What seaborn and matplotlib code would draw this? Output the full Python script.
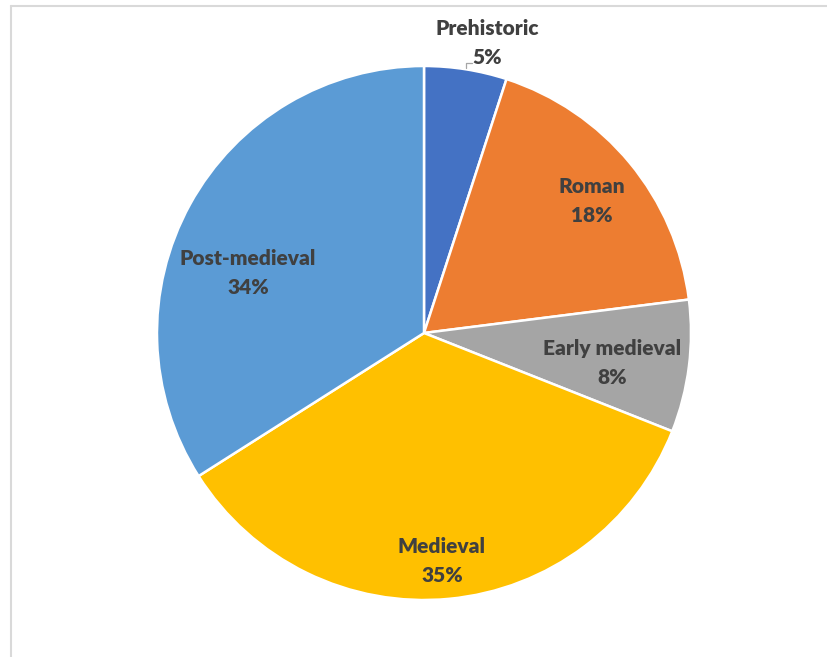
import matplotlib
matplotlib.use("Agg")
import matplotlib.pyplot as plt
from matplotlib.lines import Line2D
import seaborn as sns

# data
periods = ["Prehistoric", "Roman", "Early medieval", "Medieval", "Post-medieval"]
shares = [5, 18, 8, 35, 34]
colours = ["#4472C4", "#ED7D31", "#A5A5A5", "#FFC000", "#5B9BD5"]

sns.set_style("white")
plt.rcParams["font.family"] = ["Lato", "DejaVu Sans"]

W, H = 828, 657
fig = plt.figure(figsize=(W / 100, H / 100), dpi=100)

# pie centre (424, 333) px, radius 267 px
cx, cy, r = 424, 333, 267
ax = fig.add_axes([(cx - r) / W, (H - cy - r) / H, 2 * r / W, 2 * r / H])
ax.pie(shares, colors=colours, startangle=90, counterclock=False, radius=1,
       wedgeprops=dict(edgecolor="white", linewidth=1.8))
ax.set_xlim(-1, 1)
ax.set_ylim(-1, 1)
ax.axis("off")

# label centres in pixels
label_pos = {
    "Prehistoric": (487, 43),
    "Roman": (592, 201),
    "Early medieval": (612, 363),
    "Medieval": (442, 561),
    "Post-medieval": (248, 273),
}


def to_data(px, py):
    return (px - cx) / r, (cy - py) / r


for name, val in zip(periods, shares):
    x, y = to_data(*label_pos[name])
    ax.text(x, y, f"{name}\n{val}%", ha="center", va="center",
            fontsize=15, fontweight="heavy", color="#404040",
            linespacing=1.6, clip_on=False)

# small leader line for Prehistoric
lx = [(472 - cx) / r, (466 - cx) / r, (466 - cx) / r]
ly = [(cy - 63) / r, (cy - 63) / r, (cy - 68) / r]
ax.plot(lx, ly, color="#a6a6a6", lw=0.9, clip_on=False)

# chart area border (top and left only visible)
fig.add_artist(Line2D([11 / W, 1], [1 - 6 / H, 1 - 6 / H], color="#d9d9d9", lw=1.5))
fig.add_artist(Line2D([11 / W, 11 / W], [0, 1 - 6 / H], color="#d9d9d9", lw=1.5))

fig.savefig("out.png", dpi=100, facecolor="white")
